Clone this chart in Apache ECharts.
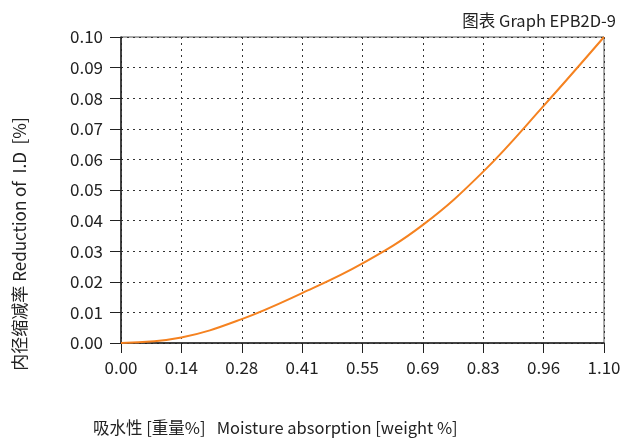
<!DOCTYPE html>
<html><head><meta charset="utf-8">
<script src="https://cdn.jsdelivr.net/npm/echarts@6/dist/echarts.min.js"></script>
<style>html,body{margin:0;padding:0;background:#fff}#c{width:629px;height:441px}</style>
</head><body><div id="c"></div>
<script>
const xValues = [0, 0.1375, 0.275, 0.4125, 0.55, 0.6875, 0.825, 0.9625, 1.1];
const yValues = [0, 0.0018, 0.0078, 0.0163, 0.026, 0.0386, 0.056, 0.0775, 0.1];
const xTickLabels = ['0.00','0.14','0.28','0.41','0.55','0.69','0.83','0.96','1.10'];
const titleText = '图表 Graph EPB2D-9';
const xName = '吸水性 [重量%]   Moisture absorption [weight %]';
const yName = '内径缩减率 Reduction of  I.D  [%]';

const font = '"Noto Sans CJK SC","Noto Sans",sans-serif';
const chart = echarts.init(document.getElementById('c'), null, {renderer:'canvas'});
chart.setOption({
  animation:false,
  grid:{left:121, right:25, top:37, bottom:98, show:true, borderColor:'#555', borderWidth:1},
  title:{text:titleText, right:8, top:7, textStyle:{fontFamily:font, fontSize:16.5, fontWeight:'normal', color:'#222'}},
  graphic:[
    {type:'text', left:93, top:419, style:{text:xName, font:'16.5px '+font, fill:'#222'}},
    {type:'text', x:20, y:244, rotation:Math.PI/2, style:{text:yName, font:'17px '+font, fill:'#222', align:'center', verticalAlign:'middle'}}
  ],
  xAxis:{type:'value', min:0, max:1.1, interval:0.1375,
    axisLine:{show:true, onZero:false, lineStyle:{color:'#222', width:1.5}},
    axisTick:{show:true, length:10, lineStyle:{color:'#222'}},
    axisLabel:{fontFamily:font, fontSize:17, color:'#222', margin:16,
      formatter:(v)=>{const i=Math.round(v/0.1375); return xTickLabels[i]||'';}},
    splitLine:{show:true, lineStyle:{color:'#333', type:[2,4], width:1}}
  },
  yAxis:{type:'value', min:0, max:0.1, interval:0.01,
    axisLine:{show:true, lineStyle:{color:'#222', width:1.5}},
    axisTick:{show:true, length:11, lineStyle:{color:'#222'}},
    axisLabel:{fontFamily:font, fontSize:17, color:'#222', margin:18, formatter:(v)=>v.toFixed(2)},
    splitLine:{show:true, lineStyle:{color:'#333', type:[2,4], width:1}}
  },
  series:[{type:'line', data:xValues.map((x,i)=>[x,yValues[i]]), smooth:0.4, showSymbol:false,
    lineStyle:{color:'#f58220', width:2}}]
});
</script></body></html>
